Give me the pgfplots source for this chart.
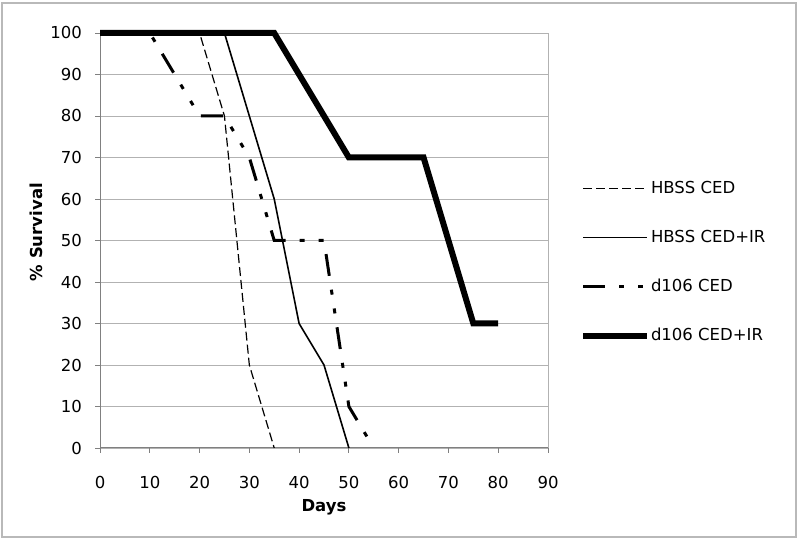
\documentclass[border=0pt]{standalone}
\usepackage{fontspec}
\setmainfont{DejaVu Sans}
\usepackage{pgfplots}
\pgfplotsset{compat=1.18}
\begin{document}
\begin{tikzpicture}
\useasboundingbox (0,0) rectangle (799pt,540pt);
\draw[gray!55, line width=1.2pt] (2pt,3pt) rectangle (796pt,537pt);
\begin{axis}[
  at={(100pt,92pt)}, anchor=south west,
  width=448pt, height=415pt, scale only axis,
  xmin=0, xmax=90, ymin=0, ymax=100,
  xtick={0,10,...,90}, ytick={0,10,...,100},
  axis lines=left, axis line style={-, draw=gray, line width=1pt},
  ymajorgrids, grid style={gray!60, line width=0.9pt},
  tick align=outside, major tick length=5pt, tick style={gray, line width=0.8pt},
  clip=false,
  /pgf/number format/assume math mode=true,
  tick label style={font=\fontsize{16.5}{19}\selectfont},
  xticklabel style={anchor=center, inner sep=0pt, yshift=-29pt},
  yticklabel style={anchor=east, inner sep=0pt, xshift=-13pt},
  xlabel={Days}, ylabel={\% Survival},
  label style={font=\bfseries\fontsize{16.5}{19}\selectfont},
  xlabel style={at={(axis description cs:0.5,-0.143)}, anchor=center},
  ylabel style={at={(axis description cs:-0.141,0.52)}, anchor=center},
  legend image code/.code={\draw[#1] (0pt,0pt) -- (64pt,0pt);},
  legend cell align=left,
  legend style={draw=none, fill=none, inner sep=0pt,
    at={(axis description cs:1.071,0.646)}, anchor=north west,
    row sep=32pt, column sep=0pt,
    nodes={inner sep=1pt, text height=12pt, text depth=3pt, font=\fontsize{16.5}{19}\selectfont}},
]
\draw[gray!60, line width=0.9pt] (axis cs:90,0) -- (axis cs:90,100);
\addplot[black, line width=1.2pt, dash pattern=on 9pt off 4pt] coordinates {
 (0,100) (20,100) (25,80) (30,20) (35,0)};
\addlegendentry{HBSS CED}
\addplot[black, line width=1.6pt] coordinates {
 (0,100) (25,100) (35,60) (40,30) (45,20) (50,0)};
\addlegendentry{HBSS CED+IR}
\addplot[black, line width=3pt, dash pattern=on 22pt off 14pt on 5pt off 14pt on 5pt off 14pt] coordinates {
 (0,100) (10,100) (20,80) (25,80) (30,70) (35,50) (45,50) (50,10) (55,0)};
\addlegendentry{d106 CED}
\addplot[black, line width=6pt] coordinates {
 (0,100) (35,100) (50,70) (65,70) (75,30) (80,30)};
\addlegendentry{d106 CED+IR}
\end{axis}
\end{tikzpicture}
\end{document}
